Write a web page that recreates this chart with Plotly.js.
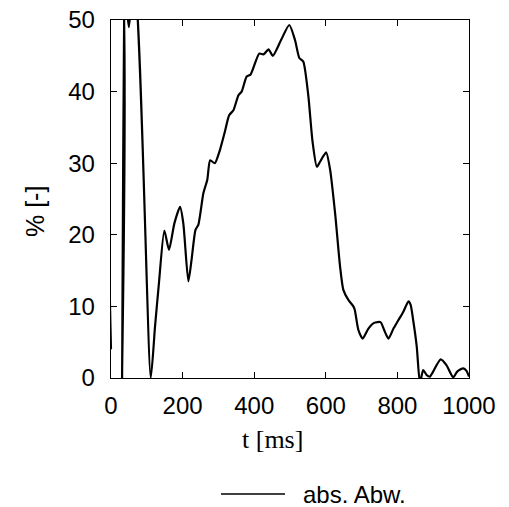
<!DOCTYPE html>
<html>
<head>
<meta charset="utf-8">
<script src="https://cdn.plot.ly/plotly-3.0.1.min.js"></script>
<style>html,body{margin:0;padding:0;background:#fff;}#chart{width:509px;height:507px;}</style>
</head>
<body>
<div id="chart"></div>
<script>
// time in ms
var timeMs = [0, 2, 24, 31, 38, 44, 50, 56, 60, 66, 111, 123, 134, 149, 162, 177, 193, 202, 216, 225, 236, 244, 258, 269, 277, 290, 304, 318, 330, 342, 356, 365, 379, 390, 414, 426, 440, 452, 475, 498, 514, 526, 537, 551, 563, 575, 584, 601, 612, 626, 640, 649, 663, 677, 681, 691, 703, 719, 735, 753, 763, 775, 789, 803, 817, 831, 837, 844, 854, 863, 872, 882, 891, 897, 921, 937, 956, 967, 984, 993, 1000];
// absolute deviation in %
var absAbw = [4, 60, 60, 0, 60, 52, 49, 52, 55, 55, 0, 7.2, 13.3, 20.6, 17.9, 21.6, 23.9, 21.6, 13.5, 16.5, 20.7, 21.4, 25.8, 27.7, 30.4, 30.0, 31.8, 34.4, 36.7, 37.4, 39.5, 40.0, 42.1, 42.4, 45.3, 45.2, 45.9, 45.0, 47.2, 49.3, 47.2, 44.7, 44.2, 39.5, 33.0, 29.5, 30.2, 31.5, 29.1, 23.0, 15.5, 12.3, 10.9, 10.0, 9.5, 6.7, 5.5, 6.9, 7.7, 7.8, 6.7, 5.5, 6.9, 8.1, 9.3, 10.7, 10.2, 8.1, 4.4, -0.7, 1.1, 0.4, 0.2, 0.65, 2.6, 1.8, 0.1, 0.9, 1.35, 1.0, 0.2];
var seriesName = "abs. Abw.";
var xTicks = [0, 200, 400, 600, 800, 1000];
var yTicks = [0, 10, 20, 30, 40, 50];
var xTitle = "t [ms]";
var yTitle = "% [-]";

var L = 111, R = 469, T = 20, B = 378;
var W = R - L, H = B - T;
function px(x){ return (x - L) / W; }
function py(y){ return (B - y) / H; }

var sans = "Liberation Sans, Arial, sans-serif";
var serif = "Liberation Serif, Times New Roman, serif";

var trace = {
  x: timeMs, y: absAbw, type: "scatter", mode: "lines", name: seriesName,
  line: {color: "#000", width: 2.2, shape: "spline", smoothing: 0.6}, showlegend: false, hoverinfo: "skip"
};

var axisCommon = {
  showgrid: false, zeroline: false, showline: true, linecolor: "#000", linewidth: 1.3,
  mirror: "allticks", ticks: "inside", ticklen: 6, tickwidth: 1, tickcolor: "#000",
  tickfont: {family: sans, size: 24, color: "#000"}, fixedrange: true
};

var layout = {
  width: 509, height: 507,
  margin: {l: L, r: 509 - R, t: T, b: 507 - B, pad: 0},
  paper_bgcolor: "#fff", plot_bgcolor: "#fff",
  xaxis: Object.assign({}, axisCommon, {range: [0, 1000], tickmode: "array", tickvals: xTicks, ticktext: xTicks.map(String), ticklabelstandoff: 6}),
  yaxis: Object.assign({}, axisCommon, {range: [0, 50], tickmode: "array", tickvals: yTicks, ticktext: yTicks.map(String), ticklabelstandoff: 10}),
  showlegend: false,
  annotations: [
    {text: xTitle, xref: "paper", yref: "paper", x: px(272.5), y: py(439), xanchor: "center", yanchor: "middle", showarrow: false, font: {family: serif, size: 26, color: "#000"}},
    {text: yTitle, xref: "paper", yref: "paper", x: px(35), y: py(212), xanchor: "center", yanchor: "middle", textangle: -90, showarrow: false, font: {family: sans, size: 25, color: "#000"}},
    {text: seriesName, xref: "paper", yref: "paper", x: px(301), y: py(494), xanchor: "left", yanchor: "middle", showarrow: false, font: {family: sans, size: 24, color: "#000"}}
  ],
  shapes: [
    {type: "line", xref: "paper", yref: "paper", x0: px(221), x1: px(285), y0: py(494), y1: py(494), line: {color: "#000", width: 1.6}}
  ]
};

Plotly.newPlot("chart", [trace], layout, {displayModeBar: false, staticPlot: true});
</script>
</body>
</html>
